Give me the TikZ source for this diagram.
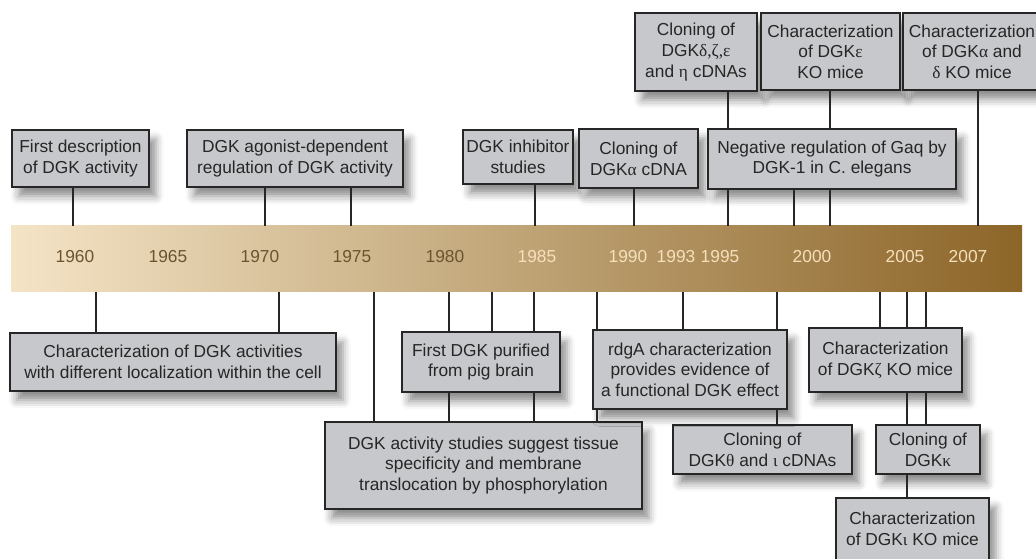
\documentclass[tikz,border=0pt]{standalone}
\usepackage{fontspec}
\setmainfont{Liberation Sans}
\newfontfamily\grk{Liberation Serif}
\usetikzlibrary{shadows.blur}

\definecolor{boxgray}{RGB}{198,200,203}
\definecolor{framegray}{RGB}{38,38,38}
\definecolor{bandlight}{RGB}{244,228,198}
\definecolor{banddark}{RGB}{140,101,40}
\definecolor{yeardark}{RGB}{108,84,48}
\definecolor{yearlight}{RGB}{246,224,188}

\tikzset{
  event/.style={draw=framegray, line width=1.5pt, fill=boxgray, align=center,
    inner sep=1pt, font=\fontsize{13pt}{15.5pt}\selectfont, text=black!85,
    blur shadow={shadow xshift=5pt, shadow yshift=-7pt, shadow blur radius=6pt, shadow opacity=45}},
  sz/.style 2 args={minimum width=#1*0.75pt, minimum height=#2*0.75pt},
  conn/.style={draw=framegray, line width=1.1pt},
  year/.style={font=\fontsize{13pt}{15pt}\selectfont, inner sep=0pt}
}

\begin{document}
\begin{tikzpicture}[x=0.75pt, y=-0.75pt]
    \useasboundingbox (0,0) rectangle (1036,559);
    \clip (0,0) rectangle (1036,559);

    % Faixa do tempo
    \node[left color=bandlight, right color=banddark, minimum width=1011*0.75pt,
          minimum height=66*0.75pt, inner sep=0pt] (band) at (516.5,259) {};

    % Anos
    \node[year, text=yeardark] (y60) at (75,257) {1960};
    \node[year, text=yeardark] (y65) at (168,257) {1965};
    \node[year, text=yeardark] (y70) at (260,257) {1970};
    \node[year, text=yeardark] (y75) at (352,257) {1975};
    \node[year, text=yeardark] (y80) at (445,257) {1980};
    \node[year, text=yearlight] (y85) at (537,257) {1985};
    \node[year, text=yearlight] (y90) at (628,257) {1990};
    \node[year, text=yearlight] (y93) at (676,257) {1993};
    \node[year, text=yearlight] (y95) at (720,257) {1995};
    \node[year, text=yearlight] (y00) at (812,257) {2000};
    \node[year, text=yearlight] (y05) at (905,257) {2005};
    \node[year, text=yearlight] (y07) at (968,257) {2007};

    % Eventos acima da faixa
    \node[event, sz={137}{57}] (desc) at (80.5,158.5) {First description\\of DGK activity};
    \node[event, sz={216}{57}] (agon) at (295,158.5) {DGK agonist-dependent\\regulation of DGK activity};
    \node[event, sz={110}{54}] (inhib) at (518,157) {DGK inhibitor\\studies};
    \node[event, sz={119}{59}] (clonA) at (638.5,158.5) {Cloning of\\DGK{\grk α} cDNA};
    \node[event, sz={122}{78}] (clonD) at (696,52) {Cloning of\\DGK{\grk δ,ζ,ε}\\and {\grk η} cDNAs};
    \node[event, sz={139}{77}] (koE) at (830.5,51.5) {Characterization\\of DGK{\grk ε}\\KO mice};
    \node[event, sz={138}{77}] (koA) at (972,51.5) {Characterization\\of DGK{\grk α} and\\{\grk δ} KO mice};
    \node[event, sz={248}{60}] (gaq) at (832,159) {Negative regulation of Gaq by\\DGK-1 in C. elegans};

    % Eventos abaixo da faixa
    \node[event, sz={326}{58}] (local) at (173,362) {Characterization of DGK activities\\with different localization within the cell};
    \node[event, sz={317}{87}] (tissue) at (483.5,465.5) {DGK activity studies suggest tissue\\specificity and membrane\\translocation by phosphorylation};
    \node[event, sz={158}{60}] (pig) at (481,362) {First DGK purified\\from pig brain};
    \node[event, sz={179}{49}] (clonT) at (762.5,449.5) {Cloning of\\DGK{\grk θ} and {\grk ι} cDNAs};
    \node[event, sz={194}{79}] (rdga) at (690,369.5) {rdgA characterization\\provides evidence of\\a functional DGK effect};
    \node[event, sz={153}{62}] (koI) at (912.5,529) {Characterization\\of DGK{\grk ι} KO mice};
    \node[event, sz={104}{49}] (clonK) at (928,449.5) {Cloning of\\DGK{\grk κ}};
    \node[event, sz={153}{64}] (koZ) at (885.5,360) {Characterization\\of DGK{\grk ζ} KO mice};

    % Pontos de ligacao na faixa
    \coordinate (c73) at (73,0);   \coordinate (c265) at (265,0); \coordinate (c351) at (351,0);
    \coordinate (c535) at (535,0); \coordinate (c634) at (634,0); \coordinate (c728) at (728,0);
    \coordinate (c794) at (794,0); \coordinate (c830) at (830,0); \coordinate (c978) at (978,0);
    \coordinate (c96) at (96,0);   \coordinate (c279) at (279,0); \coordinate (c374) at (374,0);
    \coordinate (c449) at (449,0); \coordinate (c492) at (492,0); \coordinate (c534) at (534,0);
    \coordinate (c597) at (597,0); \coordinate (c683) at (683,0); \coordinate (c777) at (777,0);
    \coordinate (c880) at (880,0); \coordinate (c907) at (907,0); \coordinate (c926) at (926,0);

    % Ligacoes acima
    \draw[conn] (desc.south -| c73) -- (band.north -| c73);
    \draw[conn] (agon.south -| c265) -- (band.north -| c265);
    \draw[conn] (agon.south -| c351) -- (band.north -| c351);
    \draw[conn] (inhib.south -| c535) -- (band.north -| c535);
    \draw[conn] (clonA.south -| c634) -- (band.north -| c634);
    \draw[conn] (clonD.south -| c728) -- (gaq.north -| c728);
    \draw[conn] (gaq.south -| c728) -- (band.north -| c728);
    \draw[conn] (gaq.south -| c794) -- (band.north -| c794);
    \draw[conn] (koE.south -| c830) -- (gaq.north -| c830);
    \draw[conn] (gaq.south -| c830) -- (band.north -| c830);
    \draw[conn] (koA.south -| c978) -- (band.north -| c978);

    % Ligacoes abaixo
    \draw[conn] (band.south -| c96) -- (local.north -| c96);
    \draw[conn] (band.south -| c279) -- (local.north -| c279);
    \draw[conn] (band.south -| c374) -- (tissue.north -| c374);
    \draw[conn] (band.south -| c449) -- (pig.north -| c449);
    \draw[conn] (pig.south -| c449) -- (tissue.north -| c449);
    \draw[conn] (band.south -| c492) -- (pig.north -| c492);
    \draw[conn] (band.south -| c534) -- (pig.north -| c534);
    \draw[conn] (pig.south -| c534) -- (tissue.north -| c534);
    \draw[conn] (band.south -| c597) -- (rdga.north -| c597);
    \draw[conn] (rdga.south -| c597) -- (tissue.north -| c597);
    \draw[conn] (band.south -| c683) -- (rdga.north -| c683);
    \draw[conn] (band.south -| c777) -- (rdga.north -| c777);
    \draw[conn] (rdga.south -| c777) -- (clonT.north -| c777);
    \draw[conn] (band.south -| c880) -- (koZ.north -| c880);
    \draw[conn] (band.south -| c907) -- (koZ.north -| c907);
    \draw[conn] (koZ.south -| c907) -- (clonK.north -| c907);
    \draw[conn] (clonK.south -| c907) -- (koI.north -| c907);
    \draw[conn] (band.south -| c926) -- (koZ.north -| c926);
    \draw[conn] (koZ.south -| c926) -- (clonK.north -| c926);

\end{tikzpicture}
\end{document}
